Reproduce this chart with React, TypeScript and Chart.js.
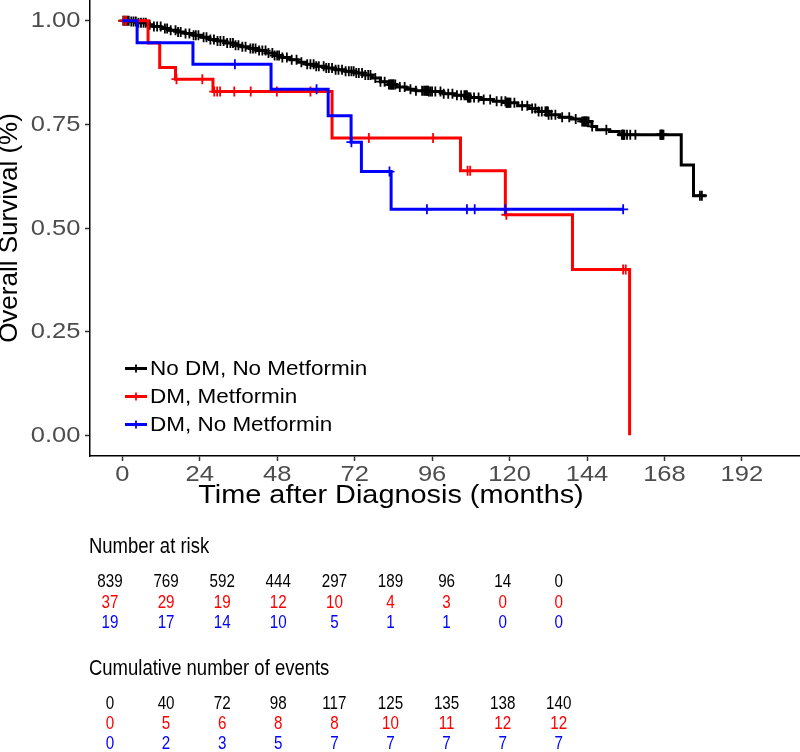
import React, { useEffect, useRef } from "react";
import { Chart, registerables } from "chart.js";

Chart.register(...registerables);

const FONT = '"Liberation Sans", Arial, Helvetica, sans-serif';

const seriesLabels = ["No DM, No Metformin", "DM, Metformin", "DM, No Metformin"];
const seriesColors = ["#000000", "#ff0000", "#0000ff"];
const xTitle = "Time after Diagnosis (months)";
const yTitle = "Overall Survival (%)";

// Kaplan-Meier steps: time of each step (months) and survival after it
const blackTimes = [0, 2.5, 5, 7.5, 9.5, 12, 14.5, 17, 19.5, 22, 24.5, 27, 29.5, 32, 34.5, 37, 39.5, 42, 44.5, 47, 49.5, 52, 54.5, 57, 60, 63, 66, 69, 72, 75, 77.5, 80, 82.5, 85, 88, 91, 95, 99.5, 103, 107, 111, 115, 119, 122.5, 126, 129, 132, 135.5, 139, 142.5, 145.5, 147, 151, 154, 173.2, 177, 181];
const blackSurv = [1, 0.998, 0.995, 0.99, 0.986, 0.981, 0.977, 0.973, 0.969, 0.965, 0.96, 0.955, 0.951, 0.946, 0.941, 0.937, 0.933, 0.928, 0.922, 0.916, 0.911, 0.906, 0.9, 0.895, 0.89, 0.886, 0.882, 0.878, 0.874, 0.869, 0.862, 0.853, 0.846, 0.84, 0.835, 0.831, 0.829, 0.824, 0.82, 0.815, 0.81, 0.806, 0.802, 0.795, 0.788, 0.781, 0.773, 0.767, 0.763, 0.757, 0.745, 0.737, 0.733, 0.725, 0.652, 0.578, 0.578];
const blackCensor = [
  0.3, 0.8, 1.5, 2.0, 2.8, 3.5, 4.2, 5.0, 5.8, 6.6, 7.3, 8.5, 9.8, 10.8, 11.9,
  13.2, 13.9, 15.0, 16.5, 17.3, 18.1, 19.6, 20.8, 22.1, 22.8, 23.6,
  25.2, 26.1, 27.3, 28.4, 29.5, 30.4, 31.4, 32.5, 33.5, 34.3, 35.1, 36.0, 37.2, 38.2, 39.7, 40.5, 41.3, 42.4, 43.4, 44.4, 45.3, 46.5, 47.2, 48.0, 48.6, 49.6,
  51.0, 52.5, 54.0, 55.5, 57.3, 58.3, 59.3, 60.1, 60.9, 62.4, 63.2, 64.0, 65.0, 66.1, 67.0, 68.1, 69.2, 70.2, 71.0, 71.7, 72.5, 73.3,
  74.3, 75.3, 76.2, 76.9, 78.4, 80.0, 81.3, 82.6, 83.0, 83.3, 83.6, 83.9, 84.1, 84.6, 86.0, 87.5, 89.3, 91.0, 92.9, 93.5, 93.9, 94.3, 94.5, 94.8, 95.0, 95.5, 96.0,
  97.0, 98.6, 99.6, 101.0, 102.3, 103.7, 105.0, 106.0, 106.4, 106.8, 107.1, 107.3, 107.6, 107.9, 109.0, 110.4, 112.0, 114.0, 116.0, 117.5, 118.7, 119.0, 119.2, 119.4, 119.7, 120.0, 120.3,
  121.5, 123.9, 125.5, 127.0, 128.0, 129.0, 130.0, 131.1, 131.4, 131.6, 131.9, 132.1, 133.0, 134.2, 136.3, 138.5, 140.5, 142.5, 143.0, 143.2, 143.5, 143.8, 144.0, 144.5, 145.6,
  150.0, 154.8, 155.0, 155.2, 155.4, 155.6, 156.4, 157.4, 159.0, 166.7, 166.9, 167.0, 167.2, 167.4, 167.7, 179.0, 179.6,
];

const redTimes = [0, 8, 11.6, 16.5, 28.1, 65, 104.8, 118.7, 139.5, 157.2];
const redSurv = [1, 0.946, 0.887, 0.859, 0.829, 0.717, 0.638, 0.532, 0.4, 0];
const redCensor = [0.5, 1.2, 16.8, 24.8, 28.5, 29.4, 30.3, 34.7, 39.8, 47.9, 58.3, 76.4, 96.3, 107.0, 107.8, 119.0, 155.2, 156.0];

const blueTimes = [0, 4.6, 21.9, 46.1, 63.8, 70.9, 74.1, 83.3, 155.2];
const blueSurv = [1, 0.947, 0.895, 0.835, 0.771, 0.707, 0.636, 0.545, 0.545];
const blueCensor = [34.9, 60.2, 71.0, 82.8, 94.4, 106.8, 109.2, 118.7, 155.2];

const xTicks = [0, 24, 48, 72, 96, 120, 144, 168, 192];
const yTicks = [0, 0.25, 0.5, 0.75, 1];

// risk tables
const tableTimes = [0, 24, 48, 72, 96, 120, 144, 168, 192];
const riskNoDM = [839, 769, 592, 444, 297, 189, 96, 14, 0];
const riskMet = [37, 29, 19, 12, 10, 4, 3, 0, 0];
const riskNoMet = [19, 17, 14, 10, 5, 1, 1, 0, 0];
const eventsNoDM = [0, 40, 72, 98, 117, 125, 135, 138, 140];
const eventsMet = [0, 5, 6, 8, 8, 10, 11, 12, 12];
const eventsNoMet = [0, 2, 3, 5, 7, 7, 7, 7, 7];

const groups = [
  { times: blackTimes, surv: blackSurv, censor: blackCensor, order: 3 },
  { times: redTimes, surv: redSurv, censor: redCensor, order: 2 },
  { times: blueTimes, surv: blueSurv, censor: blueCensor, order: 1 },
];

function survAt(times: number[], surv: number[], t: number) {
  let v = surv[0];
  for (let i = 0; i < times.length; i++) {
    if (times[i] <= t) v = surv[i];
  }
  return v;
}

function drawScaled(ctx: CanvasRenderingContext2D, text: string, x: number, y: number, align: CanvasTextAlign, sx: number) {
  ctx.save();
  ctx.translate(x, y);
  ctx.scale(sx, 1);
  ctx.textAlign = align;
  ctx.fillText(text, 0, 0);
  ctx.restore();
}

const axisTextPlugin = {
  id: "kmAxisText",
  afterDraw(chart: any) {
    const ctx = chart.ctx as CanvasRenderingContext2D;
    const xs = chart.scales.x;
    const ys = chart.scales.y;
    ctx.save();
    ctx.textBaseline = "middle";
    ctx.fillStyle = "#4d4d4d";
    ctx.font = `22px ${FONT}`;
    xTicks.forEach((v) => {
      drawScaled(ctx, String(v), xs.getPixelForValue(v), 475, "center", 1.16);
    });
    yTicks.forEach((v) => {
      drawScaled(ctx, v.toFixed(2), 80.5, ys.getPixelForValue(v) + 0.5, "right", 1.16);
    });
    ctx.fillStyle = "#000";
    ctx.font = `26px ${FONT}`;
    drawScaled(ctx, xTitle, 391, 496, "center", 1.11);
    ctx.restore();
  },
};

const legendPlugin = {
  id: "kmLegend",
  afterDraw(chart: any) {
    const ctx = chart.ctx as CanvasRenderingContext2D;
    const rows = [368.5, 396.5, 424.5];
    ctx.save();
    seriesLabels.forEach((lab, i) => {
      const y = rows[i];
      ctx.strokeStyle = seriesColors[i];
      ctx.lineWidth = 3;
      ctx.beginPath();
      ctx.moveTo(125, y);
      ctx.lineTo(147, y);
      ctx.stroke();
      ctx.lineWidth = 1.8;
      ctx.beginPath();
      ctx.moveTo(136, y - 4);
      ctx.lineTo(136, y + 4);
      ctx.stroke();
      ctx.fillStyle = "#000";
      ctx.font = `21px ${FONT}`;
      ctx.textBaseline = "middle";
      drawScaled(ctx, lab, 150, y + 1, "left", 1.07);
    });
    ctx.restore();
  },
};

const tablePlugin = {
  id: "kmTables",
  afterDraw(chart: any) {
    const ctx = chart.ctx as CanvasRenderingContext2D;
    ctx.save();
    ctx.textBaseline = "middle";
    ctx.fillStyle = "#000";
    ctx.font = `22px ${FONT}`;
    drawScaled(ctx, "Number at risk", 89, 547, "left", 0.84);
    drawScaled(ctx, "Cumulative number of events", 89, 668.5, "left", 0.84);
    const blocks = [
      { rows: [riskNoDM, riskMet, riskNoMet], ys: [582, 602.5, 623] },
      { rows: [eventsNoDM, eventsMet, eventsNoMet], ys: [703.5, 723.5, 743.5] },
    ];
    ctx.font = `19px ${FONT}`;
    blocks.forEach((b) => {
      b.rows.forEach((row, r) => {
        ctx.fillStyle = seriesColors[r];
        tableTimes.forEach((_, c) => {
          drawScaled(ctx, String(row[c]), 110 + 56.1 * c, b.ys[r], "center", 0.8);
        });
      });
    });
    ctx.restore();
  },
};

export default function App() {
  const ref = useRef<HTMLCanvasElement | null>(null);

  useEffect(() => {
    document.body.style.margin = "0";
    const canvas = ref.current;
    if (!canvas) return;

    const datasets: any[] = [];
    groups.forEach((g, i) => {
      datasets.push({
        label: seriesLabels[i],
        data: g.times.map((t, k) => ({ x: t, y: g.surv[k] })),
        borderColor: seriesColors[i],
        backgroundColor: seriesColors[i],
        borderWidth: 3,
        stepped: true,
        pointRadius: 0,
        fill: false,
        borderJoinStyle: "miter",
        borderCapStyle: "butt",
        order: g.order,
      });
      datasets.push({
        label: seriesLabels[i] + " (censored)",
        data: g.censor.map((t) => ({ x: t, y: survAt(g.times, g.surv, t) })),
        showLine: false,
        pointStyle: "cross",
        pointRadius: 5,
        pointBorderWidth: 1.8,
        borderColor: seriesColors[i],
        backgroundColor: seriesColors[i],
        order: g.order,
      });
    });

    const chart = new Chart(canvas, {
      type: "line",
      data: { datasets },
      options: {
        animation: false,
        responsive: false,
        devicePixelRatio: 1,
        layout: { padding: { left: 0, right: 0, top: 0, bottom: 240 }, autoPadding: false },
        plugins: { legend: { display: false }, tooltip: { enabled: false } },
        scales: {
          x: {
            type: "linear",
            min: -10,
            max: 210,
            afterBuildTicks: (s: any) => {
              s.ticks = xTicks.map((v) => ({ value: v }));
            },
            afterFit: (s: any) => {
              s.height = 56;
              s.paddingLeft = 0;
              s.paddingRight = 0;
            },
            grid: { drawOnChartArea: false, drawTicks: true, tickLength: 5, tickColor: "#333333", tickWidth: 1.5 },
            border: { display: true, color: "#000000", width: 1.5 },
            ticks: { display: false, autoSkip: false, maxRotation: 0 },
          },
          y: {
            type: "linear",
            min: -0.05,
            max: 1.05,
            afterBuildTicks: (s: any) => {
              s.ticks = yTicks.map((v) => ({ value: v }));
            },
            afterFit: (s: any) => {
              s.width = 90;
              s.paddingTop = 0;
              s.paddingBottom = 0;
            },
            grid: { drawOnChartArea: false, drawTicks: true, tickLength: 5, tickColor: "#333333", tickWidth: 1.5 },
            border: { display: true, color: "#000000", width: 1.5 },
            ticks: { display: false },
            title: {
              display: true,
              text: yTitle,
              color: "#000000",
              font: { family: FONT, size: 26, lineHeight: "20px" },
              padding: { top: 0, bottom: 0 },
            },
          },
        },
      } as any,
      plugins: [axisTextPlugin, legendPlugin, tablePlugin],
    });

    return () => chart.destroy();
  }, []);

  return (
    <div style={{ width: 800, height: 752 }}>
      <canvas ref={ref} width={800} height={752} style={{ display: "block" }} />
    </div>
  );
}
